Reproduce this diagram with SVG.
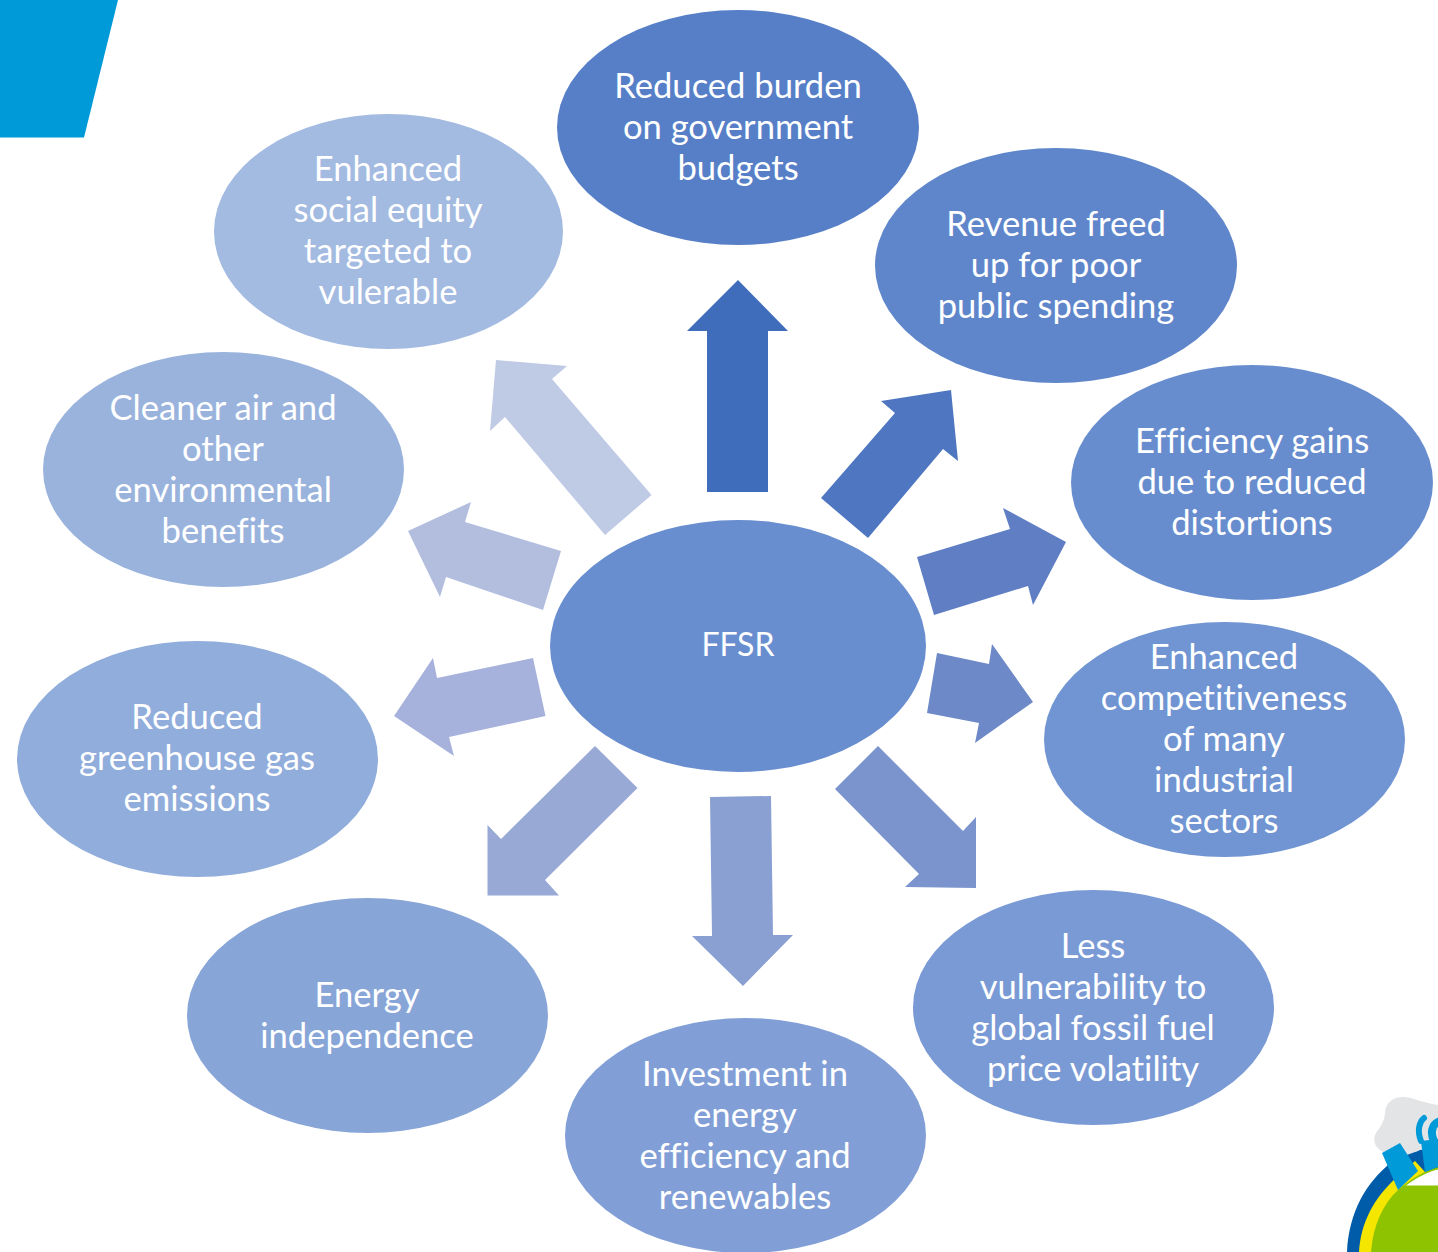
<svg xmlns="http://www.w3.org/2000/svg" width="1438" height="1252" viewBox="0 0 1438 1252">
<style>
text{font-family:"Lato","Open Sans","Liberation Sans",sans-serif;font-size:34.6px;fill:#fff;text-anchor:middle;font-variant-ligatures:none;transform:translateY(.7px)}
.short{font-size:32px}
.smoke{fill:none;stroke:#009ad8;stroke-linecap:round}
</style>
<rect width="1438" height="1252" fill="#fff"/>
<polygon id="corner" points="0,0 118,0 84,137.500 0,137.500" fill="#009ad8"/>
<g id="logo">
<path d="M1383,1152C1375,1148 1372,1140 1376,1133C1381,1126 1385,1120 1385,1112C1386,1102 1394,1097 1403,1097C1412,1097 1420,1102 1438,1105V1165L1418,1160Z" fill="#e3e4e6"/>
<path d="M1347,1252C1349,1212 1366,1182 1392,1162C1402,1155 1412,1154 1420,1150L1438,1148V1252Z" fill="#005ca9"/>
<path d="M1359,1252C1361,1222 1374,1198 1396,1178L1415,1161L1425,1172L1438,1172V1252Z" fill="#f5e600"/>
<path d="M1398,1190C1412,1178 1425,1171 1438,1167V1252H1371C1373,1225 1383,1204 1398,1190Z" fill="#8dc300"/>
<path d="M1406,1185.500C1416,1178 1427,1172 1438,1169.500V1185.500Z" fill="#fff"/>
<polygon points="1382,1153 1400,1143 1418,1171 1398,1190" fill="#009ad8"/>
<polygon points="1421,1141 1438,1139 1438,1167 1425,1172" fill="#009ad8"/>
<path class="smoke" stroke-width="6" d="M1421,1141C1417,1131 1419,1122 1424,1118"/>
<path class="smoke" stroke-width="8" d="M1434,1141C1430,1133 1432,1125 1438,1122"/>
</g>
<g id="connectors">
<polygon points="707,492 707,331 687,331 738,280 788,331 768,331 768,492" fill="#3f6dbc"/>
<polygon points="821,498 895,413 881,401 951,390 958,461 943,449 868,538" fill="#4f76c0"/>
<polygon points="917,557 1010,529 1003,508 1066,542 1033,605 1028,586 934,615" fill="#5f7ec4"/>
<polygon points="937,653 989,664 992,644 1033,702 975,743 979,723 927,713" fill="#6d89c7"/>
<polygon points="878,746 963,831 976,817 976,888 905,887 919,874 835,789" fill="#7b94cd"/>
<polygon points="710,797 771,796 773,935 793,935 743,986 692,936 712,936" fill="#8aa0d3"/>
<polygon points="595,746 637.500,788 545,880 559,895.500 487.500,895.500 487.500,825 501,839" fill="#98a9d6"/>
<polygon points="533,658 545.500,716 449,737 454,756 394,716 433,658 437,678" fill="#a6b2db"/>
<polygon points="561,551 543,610 446,577 440,597 408,531 471,502 465,522" fill="#b3bedf"/>
<polygon points="651.500,495 605,535 505,417 490,431 496,360 567,366 552,379" fill="#bfcae5"/>
</g>
<g id="n-ffsr"><ellipse cx="738" cy="646" rx="188" ry="126" fill="#698ecf"/><text class="short" x="738" y="655">FFSR</text></g>
<g id="n-budget"><ellipse cx="738" cy="127.500" rx="181" ry="117.500" fill="#577fc8"/><text x="738" y="97">Reduced burden</text><text x="738" y="138">on government</text><text x="738" y="179">budgets</text></g>
<g id="n-revenue"><ellipse cx="1056" cy="265.500" rx="181" ry="117.500" fill="#5f86cb"/><text x="1056" y="235">Revenue freed</text><text x="1056" y="276">up for poor</text><text x="1056" y="317">public spending</text></g>
<g id="n-efficiency"><ellipse cx="1252" cy="482.500" rx="181" ry="117.500" fill="#688dce"/><text x="1252" y="452">Efficiency gains</text><text x="1252" y="493">due to reduced</text><text x="1252" y="534">distortions</text></g>
<g id="n-competitive"><ellipse cx="1224.500" cy="739.500" rx="180.500" ry="117.500" fill="#7095d2"/><text x="1224" y="668">Enhanced</text><text x="1224" y="709">competitiveness</text><text x="1224" y="750">of many</text><text x="1224" y="791">industrial</text><text x="1224" y="832">sectors</text></g>
<g id="n-volatility"><ellipse cx="1093.500" cy="1007.500" rx="180.500" ry="117.500" fill="#7a9ad5"/><text x="1093" y="957">Less</text><text x="1093" y="998">vulnerability to</text><text x="1093" y="1039">global fossil fuel</text><text x="1093" y="1080">price volatility</text></g>
<g id="n-investment"><ellipse cx="745.500" cy="1135.500" rx="180.500" ry="117.500" fill="#819fd6"/><text x="745" y="1085">Investment in</text><text x="745" y="1126">energy</text><text x="745" y="1167">efficiency and</text><text x="745" y="1208">renewables</text></g>
<g id="n-independence"><ellipse cx="367.500" cy="1015.500" rx="180.500" ry="117.500" fill="#88a5d8"/><text x="367" y="1006">Energy</text><text x="367" y="1047">independence</text></g>
<g id="n-ghg"><ellipse cx="197.500" cy="759" rx="180.500" ry="118" fill="#91addb"/><text x="197" y="728">Reduced</text><text x="197" y="769">greenhouse gas</text><text x="197" y="810">emissions</text></g>
<g id="n-air"><ellipse cx="223.500" cy="469.500" rx="180.500" ry="117.500" fill="#9ab3dd"/><text x="223" y="419">Cleaner air and</text><text x="223" y="460">other</text><text x="223" y="501">environmental</text><text x="223" y="542">benefits</text></g>
<g id="n-equity"><ellipse cx="388.500" cy="231.500" rx="174.500" ry="117.500" fill="#a3bae1"/><text x="388" y="180">Enhanced</text><text x="388" y="221">social equity</text><text x="388" y="262">targeted to</text><text x="388" y="303">vulerable</text></g>
</svg>
